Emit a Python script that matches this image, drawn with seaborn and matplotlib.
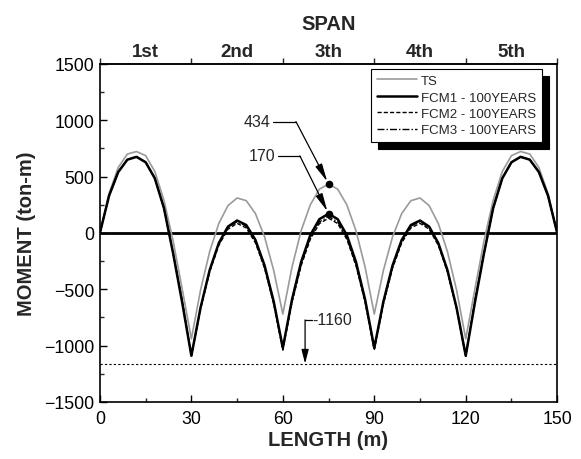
import numpy as np
import pandas as pd
import matplotlib
matplotlib.use("Agg")
import matplotlib.pyplot as plt
import seaborn as sns

# ---- data ----
length = [0, 3, 6, 9, 12, 15, 18, 21, 24, 27, 30,
          33, 36, 39, 42, 45, 48, 51, 54, 57, 60,
          63, 66, 69, 72, 75, 78, 81, 84, 87, 90,
          93, 96, 99, 102, 105, 108, 111, 114, 117, 120,
          123, 126, 129, 132, 135, 138, 141, 144, 147, 150]

ts = [0, 350, 580, 700, 722, 686, 545, 290, -70, -500, -940,
      -508, -166, 84, 242, 310, 286, 172, -34, -332, -720,
      -305, 19, 249, 388, 434, 388, 249, 19, -305, -720,
      -332, -34, 172, 286, 310, 242, 84, -166, -508, -940,
      -500, -70, 290, 545, 686, 722, 700, 580, 350, 0]

fcm1 = [0, 330, 540, 650, 675, 627, 485, 220, -180, -620, -1090,
        -664, -330, -90, 56, 110, 70, -62, -288, -608, -1020,
        -592, -258, -20, 122, 170, 122, -20, -258, -592, -1020,
        -608, -288, -62, 70, 110, 56, -90, -330, -664, -1090,
        -620, -180, 220, 485, 627, 675, 650, 540, 330, 0]

fcm2 = [0, 330, 540, 650, 675, 627, 485, 220, -180, -605, -1095,
        -675, -346, -110, 33, 85, 44, -88, -313, -631, -1040,
        -619, -291, -57, 83, 130, 83, -57, -291, -619, -1040,
        -631, -313, -88, 44, 85, 33, -110, -346, -675, -1095,
        -605, -180, 220, 485, 627, 675, 650, 540, 330, 0]

fcm3 = [0, 330, 540, 650, 675, 627, 485, 220, -180, -602, -1092,
        -668, -337, -98, 47, 100, 60, -73, -299, -618, -1030,
        -607, -278, -43, 98, 145, 98, -43, -278, -607, -1030,
        -618, -299, -73, 60, 100, 47, -98, -337, -668, -1092,
        -602, -180, 220, 485, 627, 675, 650, 540, 330, 0]

span_labels = ["1st", "2nd", "3th", "4th", "5th"]
span_centers = [15, 45, 75, 105, 135]
supports = [0, 30, 60, 90, 120, 150]

peak_x = 75
peak_ts = 434
peak_fcm = 170
limit_val = -1160

# ---- style ----
sns.set_theme(style="ticks")
plt.rcParams["font.family"] = ["Liberation Sans", "DejaVu Sans"]

fig = plt.figure(figsize=(5.81, 4.60), dpi=100)
ax = fig.add_axes([0.172, 0.124, 0.787, 0.735])

df = pd.DataFrame({"x": length, "TS": ts, "FCM1 - 100YEARS": fcm1,
                   "FCM2 - 100YEARS": fcm2, "FCM3 - 100YEARS": fcm3})

sns.lineplot(data=df, x="x", y="TS", ax=ax, color="#9a9a9a", lw=1.2, label="TS")
sns.lineplot(data=df, x="x", y="FCM1 - 100YEARS", ax=ax, color="black", lw=1.8,
             label="FCM1 - 100YEARS")
sns.lineplot(data=df, x="x", y="FCM2 - 100YEARS", ax=ax, color="black", lw=1.0,
             linestyle=(0, (3, 1.5)), label="FCM2 - 100YEARS")
sns.lineplot(data=df, x="x", y="FCM3 - 100YEARS", ax=ax, color="black", lw=1.0,
             linestyle=(0, (5, 1.5, 1, 1.5)), label="FCM3 - 100YEARS")

ax.axhline(0, color="black", lw=2.0, zorder=1)
ax.axhline(limit_val, color="black", lw=0.8, linestyle=(0, (2, 2)), zorder=1)

ax.set_xlim(0, 150)
ax.set_ylim(-1500, 1500)
ax.set_xticks(supports)
ax.set_xticks(span_centers, minor=True)
ax.set_yticks(np.arange(-1500, 1501, 500))
ax.set_yticks(np.arange(-1250, 1500, 500), minor=True)
ax.tick_params(axis="both", which="major", direction="in", length=5, width=1,
               labelsize=12.8, colors="black")
ax.tick_params(axis="x", which="major", pad=6)
ax.tick_params(axis="y", which="major", pad=4)
ax.tick_params(axis="both", which="minor", direction="in", length=3, width=1)
ax.tick_params(axis="y", right=False)
for s in ax.spines.values():
    s.set_color("black")
    s.set_linewidth(1.2)

ax.set_xlabel("LENGTH (m)", fontsize=14.5, fontweight="bold", labelpad=2)
ax.set_ylabel("MOMENT (ton-m)", fontsize=14.5, fontweight="bold", labelpad=6)

# top span axis
top = ax.secondary_xaxis("top")
top.set_xticks(supports)
top.set_xticklabels([""] * len(supports))
top.set_xticks(span_centers, minor=True)
top.set_xticklabels(span_labels, minor=True, fontsize=13.5, fontweight="bold")
top.tick_params(which="major", direction="out", length=4, width=1)
top.tick_params(which="minor", length=0, pad=3)
top.spines["top"].set_linewidth(1.2)
top.set_xlabel("SPAN", fontsize=14.5, fontweight="bold", labelpad=10)

# annotations
arrow = dict(arrowstyle="-|>,head_length=0.9,head_width=0.18", color="black",
             lw=0.9, shrinkA=0, shrinkB=2)
for val, ty, tx_end, bend_x in [(peak_ts, 988, 55.8, 64.3), (peak_fcm, 683, 57.4, 65.6)]:
    ax.text(tx_end, ty, str(val), ha="right", va="center", fontsize=11.5)
    ax.plot([tx_end + 1.0, bend_x], [ty, ty], color="black", lw=0.9)
    ax.annotate("", xy=(peak_x, val), xytext=(bend_x, ty), arrowprops=arrow)
    ax.plot([peak_x], [val], "o", color="black", ms=4.5, zorder=5)

ax.text(69.8, -772, str(limit_val), ha="left", va="center", fontsize=11.5)
ax.plot([67.3, 69.5], [-772, -772], color="black", lw=0.9)
ax.annotate("", xy=(67.3, limit_val), xytext=(67.3, -772),
            arrowprops=dict(arrowstyle="-|>,head_length=0.7,head_width=0.18",
                            color="black", lw=0.9, shrinkA=0, shrinkB=0))

leg = ax.legend(loc="upper right", bbox_to_anchor=(0.967, 0.985), borderaxespad=0,
                fontsize=9.5, frameon=True, fancybox=False, handlelength=3.0,
                handletextpad=0.3, labelspacing=0.32, borderpad=0.45,
                shadow={"color": "black", "alpha": 1.0, "ox": 5, "oy": -5})
leg.get_frame().set_edgecolor("black")
leg.get_frame().set_linewidth(0.8)
leg.get_frame().set_alpha(1.0)

fig.savefig("out.png", dpi=100)
